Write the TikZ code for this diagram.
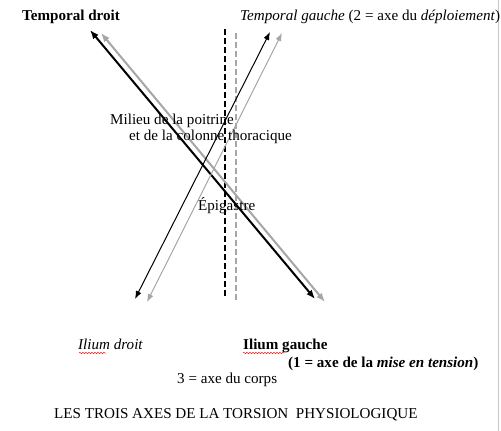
\documentclass[tikz,border=0pt]{standalone}
\usepackage{fontspec}
\setmainfont{Liberation Serif}
\usetikzlibrary{arrows.meta,decorations.pathmorphing}
\tikzset{
  lbl/.style={anchor=base west,inner sep=0pt,font=\fontsize{15.1}{17}\selectfont},
  thickax/.style={line width=2pt,{Latex[length=9pt,width=7pt]}-{Latex[length=9pt,width=7pt]}},
  thinax/.style={line width=1pt,{Latex[length=8pt,width=6pt]}-{Latex[length=8pt,width=6pt]}},
  dashax/.style={line width=2.2pt,dash pattern=on 6pt off 3pt},
  squig/.style={red,line width=0.5pt,decorate,decoration={snake,segment length=3pt,amplitude=0.6pt}},
}
\definecolor{axgray}{HTML}{A6A6A6}
\definecolor{edgegray}{HTML}{C8C8C8}
\begin{document}
\begin{tikzpicture}[x=1pt,y=-1pt]
\useasboundingbox (0,0) rectangle (501,431);
\fill[white] (0,0) rectangle (501,431);
\draw[edgegray,line width=1pt] (498,0) -- (498,431);
% coordinates
\coordinate (bt1) at (90,30);   \coordinate (bt2) at (315,299);
\coordinate (gt1) at (101,33);  \coordinate (gt2) at (325,302);
\coordinate (bn1) at (135,299); \coordinate (bn2) at (270,32);
\coordinate (gn1) at (147,302); \coordinate (gn2) at (282,33);
\coordinate (db1) at (225,29);  \coordinate (db2) at (225,298);
\coordinate (dg1) at (236,33);  \coordinate (dg2) at (236,301);
% axes
\draw[dashax,black] (db1) -- (db2);
\draw[dashax,axgray] (dg1) -- (dg2);
\draw[thickax,axgray] (gt1) -- (gt2);
\draw[thickax,black] (bt1) -- (bt2);
\draw[thinax,axgray] (gn1) -- (gn2);
\draw[thinax,black] (bn1) -- (bn2);
% labels
\node[lbl] (td) at (22,20) {\textbf{Temporal droit}};
\node[lbl] (tg) at (240,20) {\textit{Temporal gauche} (2 = axe du \textit{déploiement})};
\node[lbl] (mil1) at (110,124) {Milieu de la poitrine};
\node[lbl] (mil2) at (129,140) {et de la colonne thoracique};
\node[lbl] (epi) at (198,210) {Épigastre};
\node[lbl] (ild) at (78,349) {\textit{Ilium droit}};
\node[lbl] (ilg) at (243,349) {\textbf{Ilium gauche}};
\node[lbl] (ax1) at (288,367) {\textbf{(1 = axe de la \textit{mise en tension})}};
\node[lbl] (ax3) at (177,383) {3 = axe du corps};
\node[lbl] (title) at (54,418) {LES TROIS AXES DE LA TORSION\ \ PHYSIOLOGIQUE};
% spell-check squiggles
\coordinate (s1a) at (79,353); \coordinate (s1b) at (106,353);
\coordinate (s2a) at (243,353); \coordinate (s2b) at (284,353);
\draw[squig] (s1a) -- (s1b);
\draw[squig] (s2a) -- (s2b);
\end{tikzpicture}
\end{document}
